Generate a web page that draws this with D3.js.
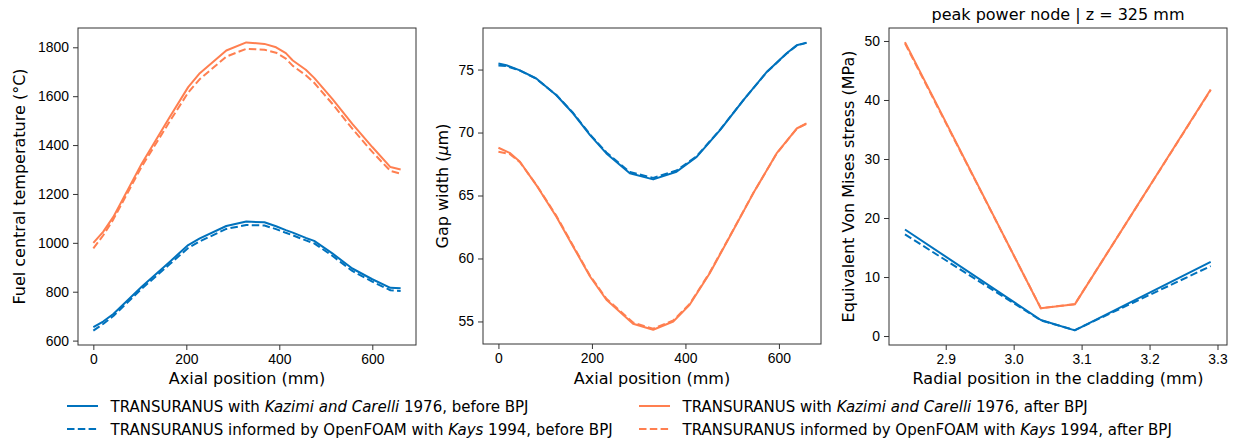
<!DOCTYPE html>
<html>
<head>
<meta charset="utf-8">
<script src="https://cdn.jsdelivr.net/npm/d3@7"></script>
<style>
  body { margin: 0; background: #fff; }
  svg { font-family: "DejaVu Sans", sans-serif; }
  .tick text { font-size: 13.9px; fill: #000; }
  .tick line { stroke: #333; }
</style>
</head>
<body>
<svg width="1238" height="441"></svg>
<script>
// panel 1: fuel central temperature vs axial position
var axial1 = [0, 21, 43, 104, 164, 204, 229, 286, 329, 368, 393, 414, 429, 457, 475, 514, 557, 600, 639, 661];
var tempBlue = [655, 678, 709, 820, 922, 991, 1018, 1069, 1087, 1084, 1068, 1052, 1042, 1020, 1008, 957, 895, 851, 816, 814];
var tempBlueOF = [641, 668, 701, 812, 912, 979, 1006, 1057, 1073, 1071, 1056, 1041, 1031, 1010, 998, 947, 885, 841, 806, 803];
var tempOrange = [1000, 1045, 1106, 1324, 1514, 1637, 1694, 1787, 1820, 1814, 1800, 1776, 1746, 1708, 1675, 1589, 1487, 1392, 1310, 1300];
var tempOrangeOF = [977, 1030, 1096, 1312, 1496, 1615, 1670, 1762, 1794, 1790, 1778, 1754, 1724, 1686, 1655, 1569, 1467, 1372, 1294, 1283];

// panel 2: gap width vs axial position
var axial2 = [0, 17, 46, 81, 124, 160, 196, 231, 281, 331, 381, 424, 474, 524, 574, 616, 638, 659];
var gapBlue = [75.48, 75.34, 74.94, 74.29, 72.96, 71.51, 69.79, 68.34, 66.76, 66.28, 66.89, 68.07, 70.19, 72.57, 74.81, 76.27, 76.93, 77.14];
var gapBlueOF = [75.32, 75.28, 74.92, 74.27, 72.98, 71.55, 69.85, 68.42, 66.86, 66.40, 66.98, 68.12, 70.22, 72.58, 74.80, 76.25, 76.90, 77.12];
var axial2b = [0, 24, 46, 81, 124, 160, 196, 231, 288, 331, 374, 409, 452, 495, 545, 595, 638, 659];
var gapOrange = [68.79, 68.39, 67.68, 65.83, 63.32, 60.94, 58.57, 56.72, 54.82, 54.34, 55.00, 56.32, 58.83, 61.74, 65.17, 68.34, 70.32, 70.72];
var gapOrangeOF = [68.47, 68.30, 67.65, 65.86, 63.38, 61.00, 58.63, 56.80, 54.92, 54.42, 55.08, 56.38, 58.88, 61.78, 65.18, 68.32, 70.30, 70.70];

// panel 3: von Mises stress vs radial position
var radial = [2.84, 3.04, 3.09, 3.29];
var stressBlue = [18.06, 2.71, 0.96, 12.58];
var stressBlueOF = [17.22, 2.65, 1.00, 11.85];
var stressOrange = [49.8, 4.69, 5.37, 41.77];
var stressOrangeOF = [49.6, 4.72, 5.40, 41.70];

var blue = "#0072BD", orange = "#FF7F50";
var labelSize = "16px", legendSize = "15px";

var svg = d3.select("svg");

function panel(opt) {
  var g = svg.append("g");
  var x = d3.scaleLinear().domain(opt.xdom).range([opt.left, opt.right]);
  var y = d3.scaleLinear().domain(opt.ydom).range([opt.bottom, opt.top]);

  var line = d3.line()
    .x(function(d) { return x(d[0]); })
    .y(function(d) { return y(d[1]); });

  opt.series.forEach(function(s) {
    g.append("path")
      .datum(d3.zip(s.x, s.y))
      .attr("fill", "none")
      .attr("stroke", s.color)
      .attr("stroke-width", 2)
      .attr("stroke-dasharray", s.dashed ? "7.5,3.3" : null)
      .attr("stroke-linejoin", "round")
      .attr("d", line);
  });

  var xa = g.append("g")
    .attr("transform", "translate(0," + opt.bottom + ")")
    .call(d3.axisBottom(x).tickValues(opt.xticks).tickFormat(opt.xfmt).tickSize(5).tickPadding(4));
  xa.select(".domain").remove();
  var ya = g.append("g")
    .attr("transform", "translate(" + opt.left + ",0)")
    .call(d3.axisLeft(y).tickValues(opt.yticks).tickFormat(opt.yfmt).tickSize(5).tickPadding(4));
  ya.select(".domain").remove();

  g.append("rect")
    .attr("x", opt.left).attr("y", opt.top)
    .attr("width", opt.right - opt.left).attr("height", opt.bottom - opt.top)
    .attr("fill", "none").attr("stroke", "#333").attr("stroke-width", 1);

  g.append("text")
    .attr("x", (opt.left + opt.right) / 2).attr("y", 384)
    .attr("text-anchor", "middle").attr("font-size", labelSize)
    .text(opt.xlabel);

  var yl = g.append("text")
    .attr("transform", "translate(" + opt.ylabelX + "," + ((opt.top + opt.bottom) / 2) + ") rotate(-90)")
    .attr("text-anchor", "middle").attr("font-size", labelSize);
  opt.ylabel(yl);

  if (opt.title) {
    g.append("text")
      .attr("x", (opt.left + opt.right) / 2).attr("y", 20)
      .attr("text-anchor", "middle").attr("font-size", labelSize)
      .text(opt.title);
  }
}

panel({
  left: 78, right: 416, top: 28, bottom: 345,
  xdom: [-33, 694], ydom: [582, 1879],
  xticks: [0, 200, 400, 600], yticks: [600, 800, 1000, 1200, 1400, 1600, 1800],
  xfmt: d3.format("d"), yfmt: d3.format("d"),
  xlabel: "Axial position (mm)",
  ylabelX: 25,
  ylabel: function(t) { t.text("Fuel central temperature (°C)"); },
  series: [
    { x: axial1, y: tempBlue, color: blue },
    { x: axial1, y: tempBlueOF, color: blue, dashed: true },
    { x: axial1, y: tempOrange, color: orange },
    { x: axial1, y: tempOrangeOF, color: orange, dashed: true }
  ]
});

panel({
  left: 483, right: 821, top: 28, bottom: 344,
  xdom: [-33, 690], ydom: [53.21, 78.3],
  xticks: [0, 200, 400, 600], yticks: [55, 60, 65, 70, 75],
  xfmt: d3.format("d"), yfmt: d3.format("d"),
  xlabel: "Axial position (mm)",
  ylabelX: 448,
  ylabel: function(t) {
    t.append("tspan").text("Gap width (");
    t.append("tspan").attr("font-style", "italic").text("μ");
    t.append("tspan").text("m)");
  },
  series: [
    { x: axial2, y: gapBlue, color: blue },
    { x: axial2, y: gapBlueOF, color: blue, dashed: true },
    { x: axial2b, y: gapOrange, color: orange },
    { x: axial2b, y: gapOrangeOF, color: orange, dashed: true }
  ]
});

panel({
  left: 889, right: 1227, top: 28, bottom: 345,
  xdom: [2.8165, 3.314], ydom: [-1.52, 52.2],
  xticks: [2.9, 3.0, 3.1, 3.2, 3.3], yticks: [0, 10, 20, 30, 40, 50],
  xfmt: d3.format(".1f"), yfmt: d3.format("d"),
  xlabel: "Radial position in the cladding (mm)",
  ylabelX: 854,
  title: "peak power node | z = 325 mm",
  ylabel: function(t) { t.text("Equivalent Von Mises stress (MPa)"); },
  series: [
    { x: radial, y: stressBlue, color: blue },
    { x: radial, y: stressBlueOF, color: blue, dashed: true },
    { x: radial, y: stressOrange, color: orange },
    { x: radial, y: stressOrangeOF, color: orange, dashed: true }
  ]
});

// legend
var legendItems = [
  { col: 0, row: 0, color: blue, dashed: false, parts: [["TRANSURANUS with ", false], ["Kazimi and Carelli", true], [" 1976, before BPJ", false]] },
  { col: 0, row: 1, color: blue, dashed: true, parts: [["TRANSURANUS informed by OpenFOAM with ", false], ["Kays", true], [" 1994, before BPJ", false]] },
  { col: 1, row: 0, color: orange, dashed: false, parts: [["TRANSURANUS with ", false], ["Kazimi and Carelli", true], [" 1976, after BPJ", false]] },
  { col: 1, row: 1, color: orange, dashed: true, parts: [["TRANSURANUS informed by OpenFOAM with ", false], ["Kays", true], [" 1994, after BPJ", false]] }
];
var colX = [67, 639], rowY = [406, 429];
var lg = svg.append("g");
legendItems.forEach(function(it) {
  var x0 = colX[it.col], y0 = rowY[it.row];
  lg.append("line")
    .attr("x1", x0).attr("x2", x0 + 31).attr("y1", y0).attr("y2", y0)
    .attr("stroke", it.color).attr("stroke-width", 2)
    .attr("stroke-dasharray", it.dashed ? "7.5,3.3" : null);
  var t = lg.append("text")
    .attr("x", x0 + 43.5).attr("y", y0 + 5.5)
    .attr("font-size", legendSize);
  it.parts.forEach(function(p) {
    t.append("tspan").attr("font-style", p[1] ? "italic" : null).text(p[0]);
  });
});
</script>
</body>
</html>
